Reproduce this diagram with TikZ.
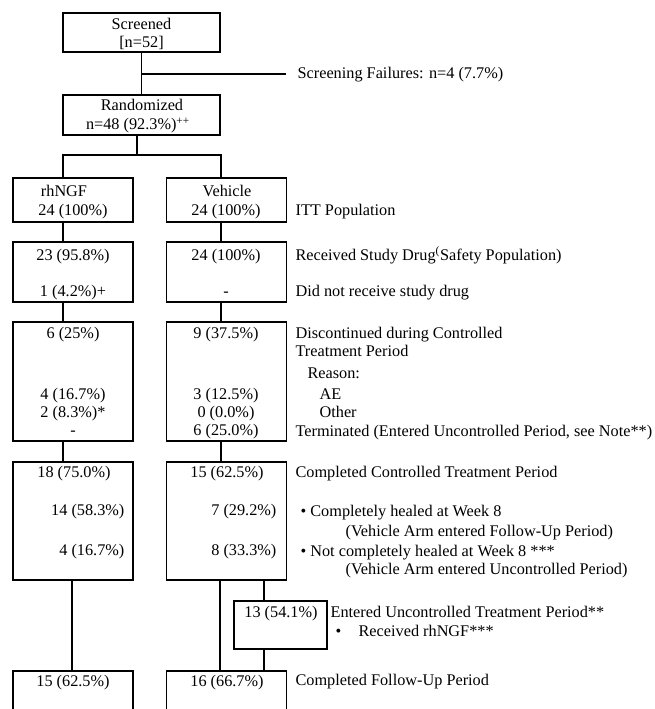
\documentclass[tikz,border=0pt]{standalone}
\usepackage{fontspec}
\setmainfont{Liberation Serif}
\usepackage{tikz}
\usetikzlibrary{calc,positioning}
\tikzset{
  flow_box/.style = {draw, line width=0.9pt, inner sep=0pt},
  arm_box/.style = {flow_box, minimum width=90pt},
  top_box/.style = {flow_box, minimum width=117.75pt},
  cell/.style = {inner sep=0pt, anchor=base, font=\fontsize{12.2}{14}\selectfont},
  cell_r/.style = {cell, anchor=base east},
  note/.style = {cell, anchor=base west}
}

\begin{document}
\begin{tikzpicture}[x=0.75pt, y=-0.75pt, line width=0.9pt,
    row1/.style={arm_box, minimum height=33pt},
    row2/.style={arm_box, minimum height=45pt},
    row3/.style={arm_box, minimum height=89.25pt},
    row4/.style={arm_box, minimum height=88.5pt},
    row5/.style={arm_box, minimum height=66.75pt}]
    \clip (0,0) rectangle (654,709);
    \node [top_box, minimum height=29.25pt] (scr) at (141.5,32.5) {};
    \node [top_box, minimum height=30pt] (rnd) at (141.5,115) {};
    \node [row1] (ngf1) at (73,200) {};
    \node [row1] (veh1) at (226.5,200) {};
    \node [row2] (ngf2) at (73,272) {};
    \node [row2] (veh2) at (226.5,272) {};
    \node [row3] (ngf3) at (73,381.5) {};
    \node [row3] (veh3) at (226.5,381.5) {};
    \node [row4] (ngf4) at (73,521) {};
    \node [row4] (veh4) at (226.5,521) {};
    \node [flow_box, minimum width=69.75pt, minimum height=36pt] (unc) at (280.5,625) {};
    \node [row5] (ngf5) at (73,715.5) {};
    \node [row5] (veh5) at (226.5,715.5) {};

    \node [cell] (scr-t1) at (141.5,30) {Screened};
    \node [cell] (scr-t2) at (141.5,48) {[n=52]};
    \node [note] (sf) at (297,79) {Screening Failures: n=4 (7.7\%)};
    \node [cell] (rnd-t1) at (142,111) {Randomized};
    \node [cell] (rnd-t2) at (138,130) {n=48 (92.3\%)\textsuperscript{++}};

    \node [cell] (ngf1-t1) at (64,196) {rhNGF};
    \node [cell] (ngf1-t2) at (73,215) {24 (100\%)};
    \node [cell] (veh1-t1) at (227,196) {Vehicle};
    \node [cell] (veh1-t2) at (226,215) {24 (100\%)};
    \node [note] (itt) at (295,215) {ITT Population};

    \node [cell] (ngf2-t1) at (73,260) {23 (95.8\%)};
    \node [cell] (ngf2-t2) at (73,296) {1 (4.2\%)+};
    \node [cell] (veh2-t1) at (226,260) {24 (100\%)};
    \node [cell] (veh2-t2) at (226,296) {-};
    \node [note] (rcv) at (295,260) {Received Study Drug\textsuperscript{(}Safety Population)};
    \node [note] (nrcv) at (295,296) {Did not receive study drug};

    \node [cell] (ngf3-t1) at (73,338) {6 (25\%)};
    \node [cell] (ngf3-t2) at (73,399) {4 (16.7\%)};
    \node [cell] (ngf3-t3) at (73,417) {2 (8.3\%)*};
    \node [cell] (ngf3-t4) at (73,435) {-};
    \node [cell] (veh3-t1) at (226,338) {9 (37.5\%)};
    \node [cell] (veh3-t2) at (226,399) {3 (12.5\%)};
    \node [cell] (veh3-t3) at (226,417) {0 (0.0\%)};
    \node [cell] (veh3-t4) at (226,435) {6 (25.0\%)};
    \node [note] (dsc) at (295,338) {Discontinued during Controlled};
    \node [note] (dsc2) at (295,356) {Treatment Period};
    \node [note] (rsn) at (307,378) {Reason:};
    \node [note] (ae) at (319,399) {AE};
    \node [note] (oth) at (319,417) {Other};
    \node [note] (trm) at (295,436) {Terminated (Entered Uncontrolled Period, see Note**)};

    \node [cell] (ngf4-t1) at (74,477) {18 (75.0\%)};
    \node [cell_r] (ngf4-t2) at (125,515) {14 (58.3\%)};
    \node [cell_r] (ngf4-t3) at (125,555) {4 (16.7\%)};
    \node [cell] (veh4-t1) at (227,477) {15 (62.5\%)};
    \node [cell_r] (veh4-t2) at (277,515) {7 (29.2\%)};
    \node [cell_r] (veh4-t3) at (277,555) {8 (33.3\%)};
    \node [note] (cmp) at (295,477) {Completed Controlled Treatment Period};
    \node [note] (hld) at (300,516) {\textbullet{} Completely healed at Week 8};
    \node [note] (hld2) at (345,536) {(Vehicle Arm entered Follow-Up Period)};
    \node [note] (nhld) at (300,556) {\textbullet{} Not completely healed at Week 8 ***};
    \node [note] (nhld2) at (345,574) {(Vehicle Arm entered Uncontrolled Period)};

    \node [cell] (unc-t) at (281,617) {13 (54.1\%)};
    \node [note] (ent) at (330,617) {Entered Uncontrolled Treatment Period**};
    \node [note] (rcv-b) at (335,636) {\textbullet};
    \node [note] (rcv-ngf) at (358,636) {Received rhNGF***};

    \node [cell] (ngf5-t) at (73,686) {15 (62.5\%)};
    \node [cell] (veh5-t) at (227,686) {16 (66.7\%)};
    \node [note] (fup) at (295,685) {Completed Follow-Up Period};

    \coordinate (sf-branch) at (141.5,74);
    \coordinate (sf-end) at (286,74);
    \coordinate (split) at (137,155);
    \coordinate (col_l) at (63,0);
    \coordinate (col_r) at (221,0);
    \coordinate (col_a) at (72,0);
    \coordinate (col_v) at (220,0);
    \coordinate (col_b) at (264,0);

    \draw (scr) -- (rnd);
    \draw (sf-branch) -- (sf-end);
    \draw (rnd.south -| split) -- (split);
    \draw (ngf1.north -| col_l) |- (split) -| (veh1.north -| col_r);
    \draw (ngf1.south -| col_l) -- (ngf2.north -| col_l);
    \draw (veh1.south -| col_r) -- (veh2.north -| col_r);
    \draw (ngf2.south -| col_l) -- (ngf3.north -| col_l);
    \draw (veh2.south -| col_r) -- (veh3.north -| col_r);
    \draw (ngf3.south -| col_l) -- (ngf4.north -| col_l);
    \draw (veh3.south -| col_r) -- (veh4.north -| col_r);
    \draw (ngf4.south -| col_a) -- (ngf5.north -| col_a);
    \draw (veh4.south -| col_v) -- (veh5.north -| col_v);
    \draw (veh4.south -| col_b) -- (unc.north -| col_b);
    \draw (unc.south -| col_b) -- (veh5.north -| col_b);
\end{tikzpicture}
\end{document}
